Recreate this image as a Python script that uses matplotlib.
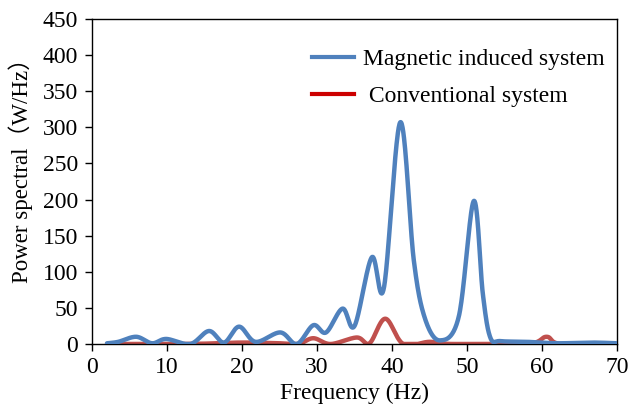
import numpy as np
import matplotlib
matplotlib.use("Agg")
import matplotlib.pyplot as plt
from matplotlib.lines import Line2D

freq_magnetic = [2, 3.5, 5.9, 8.0, 9.9, 13.1, 15.6, 17.6, 19.6, 21.8, 25.1, 27.3, 29.5, 31.2,
                 33.4, 35.0, 37.3, 38.9, 41.1, 42.9, 44.4, 46.4, 48.9, 50.9, 52.1, 53.1, 54.5,
                 58, 62, 66.5, 70]
power_magnetic = [1, 3, 10, 1, 7, 0, 18, 2, 24, 3, 16, 0, 26, 16,
                  49, 25, 120, 77, 307, 116, 35, 5, 38, 198, 70, 9, 4,
                  3, 1, 2, 1]

freq_conventional = [2, 10, 15, 20, 25, 27.5, 29.5, 31.8, 35.3, 37.0, 39.1, 41.5, 45, 48,
                     58, 60.6, 62.5, 70]
power_conventional = [0, 0, 0.5, 2, 1, 0, 8, 0, 9, 1, 35, 0, 3, 0,
                      0, 10, 0, 0]

labels = ["Magnetic induced system", " Conventional system"]
xticks = [0, 10, 20, 30, 40, 50, 60, 70]
yticks = [0, 50, 100, 150, 200, 250, 300, 350, 400, 450]


def smooth(xs, ys, n=40):
    x = np.asarray(xs, float)
    y = np.asarray(ys, float)
    px = np.concatenate([[x[0]], x, [x[-1]]])
    py = np.concatenate([[y[0]], y, [y[-1]]])
    ox, oy = [], []
    t = np.linspace(0, 1, n)
    for i in range(1, len(px) - 2):
        p0 = np.array([px[i - 1], py[i - 1]])
        p1 = np.array([px[i], py[i]])
        p2 = np.array([px[i + 1], py[i + 1]])
        p3 = np.array([px[i + 2], py[i + 2]])
        c1 = p1 + (p2 - p0) / 6
        c2 = p2 - (p3 - p1) / 6
        b = ((1 - t) ** 3)[:, None] * p1 + (3 * (1 - t) ** 2 * t)[:, None] * c1 \
            + (3 * (1 - t) * t ** 2)[:, None] * c2 + (t ** 3)[:, None] * p2
        ox.extend(b[:, 0])
        oy.extend(b[:, 1])
    return np.array(ox), np.clip(np.array(oy), 0, None)


plt.rcParams['font.family'] = ['Liberation Serif', 'Noto Sans CJK SC']
fig = plt.figure(figsize=(6.29, 4.04), dpi=100)
ax = fig.add_axes([0.1463, 0.1485, 0.8347, 0.8045])

bx, by = smooth(freq_magnetic, power_magnetic)
rx, ry = smooth(freq_conventional, power_conventional)
ax.plot(rx, ry, color='#C0504D', lw=3.2, solid_capstyle='round', zorder=2)
ax.plot(bx, by, color='#4F81BD', lw=3.2, solid_capstyle='round', zorder=3)

ax.set_xlim(0, 70)
ax.set_ylim(0, 450)
ax.set_xticks(xticks)
ax.set_yticks(yticks)
ax.tick_params(axis='both', direction='out', length=5, width=1, labelsize=17,
               colors='black')
ax.tick_params(axis='x', pad=4)
ax.tick_params(axis='y', pad=5)
for s in ax.spines.values():
    s.set_color('black')
    s.set_linewidth(1)

ax.set_xlabel('Frequency (Hz)', fontsize=17, labelpad=4)
ax.set_ylabel('Power spectral（W/Hz）', fontsize=16.5)
ax.yaxis.set_label_coords(-0.112, 0.55)

handles = [Line2D([0], [0], color='#4F81BD', lw=3),
           Line2D([0], [0], color='#CC0000', lw=3)]
ax.legend(handles, labels, loc='upper right', bbox_to_anchor=(1.016, 0.975), frameon=False,
          fontsize=17, handlelength=1.8, handletextpad=0.35, labelspacing=0.68)

fig.savefig('out.png', dpi=100)
